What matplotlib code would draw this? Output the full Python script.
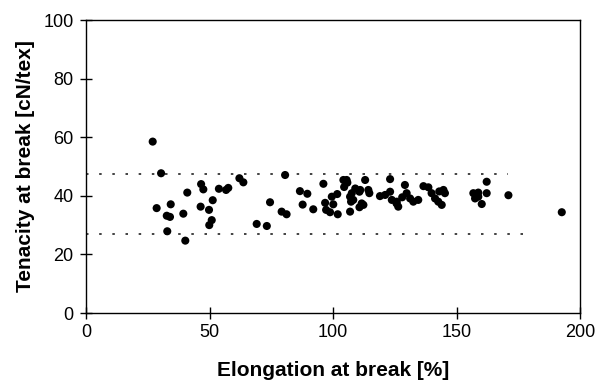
import numpy as np
import matplotlib.pyplot as plt

plt.rcParams['font.family'] = ['Liberation Sans', 'DejaVu Sans']

# elongation at break [%] and tenacity at break [cN/tex] per specimen
elongation = [
    27.0, 30.4, 46.6, 47.5, 41.0, 53.8, 56.7, 57.6, 62.1, 63.7,
    28.6, 34.3, 32.7, 34.0, 39.4, 46.4, 49.8, 51.3, 50.9, 49.9,
    32.9, 40.2, 69.1, 73.2, 80.6, 74.5, 79.2, 81.2, 86.6, 89.6,
    87.7, 92.0, 96.1, 96.8, 97.2, 98.8, 100.1, 99.5, 101.7, 101.9,
    104.2, 105.8, 106.9, 107.3, 106.9, 107.6, 108.2, 113.0, 110.7, 114.7,
    112.3, 110.7, 111.6, 114.3, 123.1, 119.0, 121.1, 123.1, 123.8, 125.8,
    126.4, 129.1, 129.8, 131.2, 132.5, 134.5, 136.6, 138.6, 139.9, 141.3,
    142.6, 144.0, 144.7, 145.3, 162.2, 156.8, 158.8, 162.2, 157.5, 158.8,
    160.2, 171.0, 192.6, 105.5, 111.0, 125.7, 109.0, 104.5, 128.0, 143.0,
]
tenacity = [
    58.5, 47.7, 44.0, 42.2, 41.1, 42.4, 42.0, 42.7, 46.0, 44.6,
    35.8, 37.1, 33.2, 32.8, 33.9, 36.3, 35.2, 38.5, 31.7, 30.0,
    27.9, 24.7, 30.4, 29.7, 47.1, 37.8, 34.6, 33.7, 41.6, 40.7,
    37.0, 35.4, 44.1, 37.6, 35.2, 34.4, 37.1, 39.7, 40.6, 33.7,
    45.4, 44.5, 39.7, 38.0, 34.6, 40.9, 38.6, 45.4, 41.4, 40.9,
    36.9, 36.1, 37.4, 42.0, 45.7, 39.9, 40.3, 41.4, 38.6, 38.0,
    36.3, 43.7, 40.9, 39.1, 38.0, 38.6, 43.3, 42.9, 40.9, 39.1,
    38.0, 36.9, 42.0, 40.9, 44.8, 40.9, 41.1, 40.9, 39.1, 39.7,
    37.2, 40.2, 34.4, 45.4, 42.0, 37.4, 42.5, 43.0, 39.5, 41.5,
]

# tolerance band drawn as dotted horizontal lines
upper_limit = 47.5
upper_end = 171
lower_limit = 27.0
lower_end = 180

fig = plt.figure(figsize=(5.98, 3.82), dpi=100)
ax = fig.add_axes([0.1438, 0.1806, 0.8262, 0.767])

ax.scatter(elongation, tenacity, s=34, color='black', edgecolors='none', zorder=3)

dots = (0, (1.5, 6.4))
ax.plot([0, upper_end], [upper_limit, upper_limit], color='#222222',
        linestyle=dots, linewidth=1.2)
ax.plot([0, lower_end], [lower_limit, lower_limit], color='#222222',
        linestyle=dots, linewidth=1.2)

ax.set_xlim(0, 200)
ax.set_ylim(0, 100)
ax.set_xticks([0, 50, 100, 150, 200])
ax.set_yticks([0, 20, 40, 60, 80, 100])
ax.tick_params(direction='inout', length=8, width=1, labelsize=13)
ax.tick_params(axis='x', pad=4)
ax.tick_params(axis='y', pad=5)
for side in ['left', 'right', 'top', 'bottom']:
    ax.spines[side].set_linewidth(1.0)

ax.set_xlabel('Elongation at break [%]', fontsize=15, fontweight='bold', labelpad=14)
ax.set_ylabel('Tenacity at break [cN/tex]', fontsize=15, fontweight='bold', labelpad=6)

plt.savefig('out.png', dpi=100)
